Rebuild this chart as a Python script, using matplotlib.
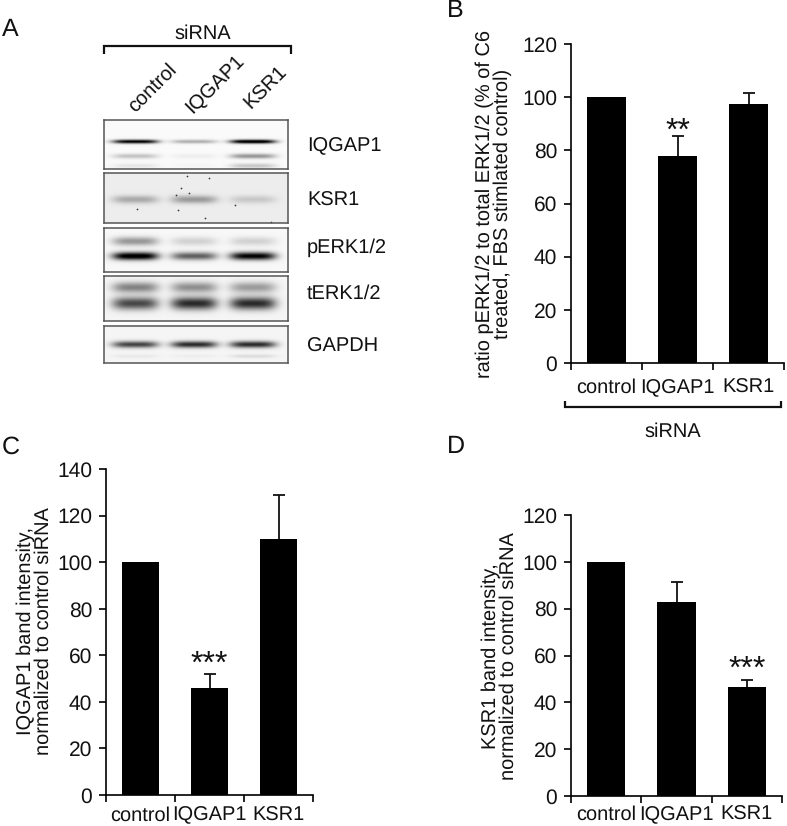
import numpy as np
import matplotlib
matplotlib.use('Agg')
import matplotlib.pyplot as plt
from matplotlib.lines import Line2D

plt.rcParams['font.family'] = ['Liberation Sans', 'DejaVu Sans']
plt.rcParams['text.hinting'] = 'none'
plt.rcParams['text.hinting_factor'] = 1

W = 787
H = 826

categories = ['control', 'IQGAP1', 'KSR1']

b_values = [100, 78, 97.5]
b_errors = [0, 7.3, 4.2]
b_ticks = [0, 20, 40, 60, 80, 100, 120]

c_values = [100, 46, 110]
c_errors = [0, 6, 19]
c_ticks = [0, 20, 40, 60, 80, 100, 120, 140]

d_values = [100, 83, 46.5]
d_errors = [0, 8.5, 3]
d_ticks = [0, 20, 40, 60, 80, 100, 120]

blot_names = ['IQGAP1', 'KSR1', 'pERK1/2', 'tERK1/2', 'GAPDH']
blot_boxes = [(104, 120, 288, 169), (104, 173, 288, 223), (104, 228, 288, 272),
              (104, 276, 288, 321), (104, 326, 288, 363)]
blot_label_y = [145, 200, 247, 293, 346]
blot_bg = [0.02, 0.07, 0.03, 0.04, 0.04]
lane_x = [0.17, 0.49, 0.81]

# one row per band: y in the panel, height, darkness in each lane
blot_bands = [
    [(0.44, 0.04, [1.0, 0.3, 1.1]), (0.74, 0.05, [0.22, 0.05, 0.4]), (0.94, 0.05, [0.08, 0.02, 0.2])],
    [(0.53, 0.08, [0.27, 0.33, 0.15])],
    [(0.30, 0.1, [0.38, 0.15, 0.15]), (0.64, 0.09, [1.05, 0.6, 0.98])],
    [(0.25, 0.12, [0.45, 0.4, 0.35]), (0.61, 0.14, [0.68, 0.8, 0.8])],
    [(0.50, 0.09, [0.7, 0.8, 0.8]), (0.82, 0.05, [0.05, 0.03, 0.1])],
]

# dark specks on the KSR1 membrane
speck_x = [0.45, 0.57, 0.42, 0.46, 0.40, 0.55, 0.71, 0.91, 0.18, 0.39]
speck_y = [0.05, 0.09, 0.29, 0.39, 0.73, 0.89, 0.63, 0.98, 0.72, 0.43]


def box_axes(x0, y0, x1, y1):
    return fig.add_axes([x0 / W, 1 - y1 / H, (x1 - x0) / W, (y1 - y0) / H])


def px_text(x, y, s, **kw):
    kw.setdefault('ha', 'center')
    kw.setdefault('va', 'center')
    kw.setdefault('color', '#111111')
    fig.text(x / W, 1 - y / H, s, **kw)


def px_line(xs, ys, lw=1.6):
    fig.add_artist(Line2D([x / W for x in xs], [1 - y / H for y in ys], color='#111111',
                          lw=lw, solid_capstyle='butt', solid_joinstyle='miter'))


def bar_panel(box, values, errors, ticks, ymax, pad=8):
    ax = box_axes(*box)
    pos = np.arange(3)
    ax.bar(pos, values, width=0.545, color='black')
    eb = ax.errorbar(pos[1:], values[1:], yerr=[[0, 0], errors[1:]], fmt='none', ecolor='#111111',
                     elinewidth=1.3, capsize=4, capthick=1.3)
    eb[1][0].set_visible(False)
    ax.set_xlim(-0.5, 2.5)
    ax.set_ylim(0, ymax)
    ax.set_yticks(ticks)
    ax.set_xticks([-0.5, 0.5, 1.5, 2.5])
    ax.set_xticklabels([])
    ax.set_xticks(pos, minor=True)
    ax.set_xticklabels(categories, minor=True)
    ax.tick_params(axis='x', which='minor', length=0, pad=pad, labelsize=14.6, labelcolor='#111111')
    ax.tick_params(axis='x', which='major', length=5, width=1.2, direction='out')
    ax.tick_params(axis='y', length=5, width=1.2, direction='out', pad=5, labelsize=15, labelcolor='#111111')
    ax.spines['top'].set_visible(False)
    ax.spines['right'].set_visible(False)
    ax.spines['left'].set_linewidth(1.2)
    ax.spines['bottom'].set_linewidth(1.2)
    ax.patch.set_alpha(0)
    return ax


def stars(ax, x, y, s):
    ax.text(x, y, s, ha='center', va='center', fontsize=23, color='#111111')


def blot_panel(box, bands, bg):
    ax = box_axes(*box)
    h = box[3] - box[1]
    w = box[2] - box[0]
    xx, yy = np.meshgrid(np.linspace(0, 1, w * 2), np.linspace(0, 1, h * 2))
    img = np.full(xx.shape, bg)
    for yc, sig, dark in bands:
        for lx, d in zip(lane_x, dark):
            across = np.exp(-((xx - lx) / 0.125) ** 4)
            img += d * across * np.exp(-((yy - yc) / sig) ** 2)
    ax.imshow(1 - np.clip(img, 0, 1), cmap='gray', vmin=0, vmax=1, aspect='auto', extent=(0, 1, 1, 0))
    ax.set_xticks([])
    ax.set_yticks([])
    for sp in ax.spines.values():
        sp.set_color('#555555')
        sp.set_linewidth(1.1)
    return ax


fig = plt.figure(figsize=(W / 100, H / 100), dpi=100)

# panel A
for i in range(5):
    ax = blot_panel(blot_boxes[i], blot_bands[i], blot_bg[i])
    if blot_names[i] == 'KSR1':
        ax.scatter(speck_x, speck_y, s=1.5, color='#333333', linewidths=0)
        ax.set_xlim(0, 1)
        ax.set_ylim(1, 0)
    px_text(307, blot_label_y[i] + 1, blot_names[i], ha='left', fontsize=14.6)

px_line([104, 104, 291, 291], [54, 46, 46, 54])
px_text(203, 34, 'siRNA', fontsize=14.6)
px_text(153, 88, 'control', rotation=45, fontsize=14.6)
px_text(215, 84, 'IQGAP1', rotation=45, fontsize=14.6)
px_text(266, 88, 'KSR1', rotation=45, fontsize=14.6)

# panel B
ax_b = bar_panel((571, 44, 784, 363), b_values, b_errors, b_ticks, 120, pad=11)
stars(ax_b, 1, 87, '**')
px_line([565, 565, 781, 781], [401, 407, 407, 401])
px_text(673, 432, 'siRNA', fontsize=14.6)
px_text(494, 204, 'ratio pERK1/2 to total ERK1/2 (% of C6\ntreated, FBS stimlated control)',
        rotation=90, fontsize=14.5, linespacing=0.95)

# panel C
ax_c = bar_panel((106, 469, 313, 795), c_values, c_errors, c_ticks, 140)
stars(ax_c, 1, 56, '***')
px_text(35, 631, 'IQGAP1 band intensity,\nnormalized to control siRNA', rotation=90,
        fontsize=14.5, linespacing=0.95)

# panel D
ax_d = bar_panel((571, 515, 782, 796), d_values, d_errors, d_ticks, 120, pad=7)
stars(ax_d, 2, 54, '***')
px_text(500, 656, 'KSR1 band intensity,\nnormalized to control siRNA', rotation=90,
        fontsize=14.5, linespacing=0.95)

# panel letters
px_text(2, 30, 'A', ha='left', fontsize=18)
px_text(447, 11, 'B', ha='left', fontsize=18)
px_text(2, 447, 'C', ha='left', fontsize=18)
px_text(447, 447, 'D', ha='left', fontsize=18)

fig.savefig('out.png', dpi=100)
